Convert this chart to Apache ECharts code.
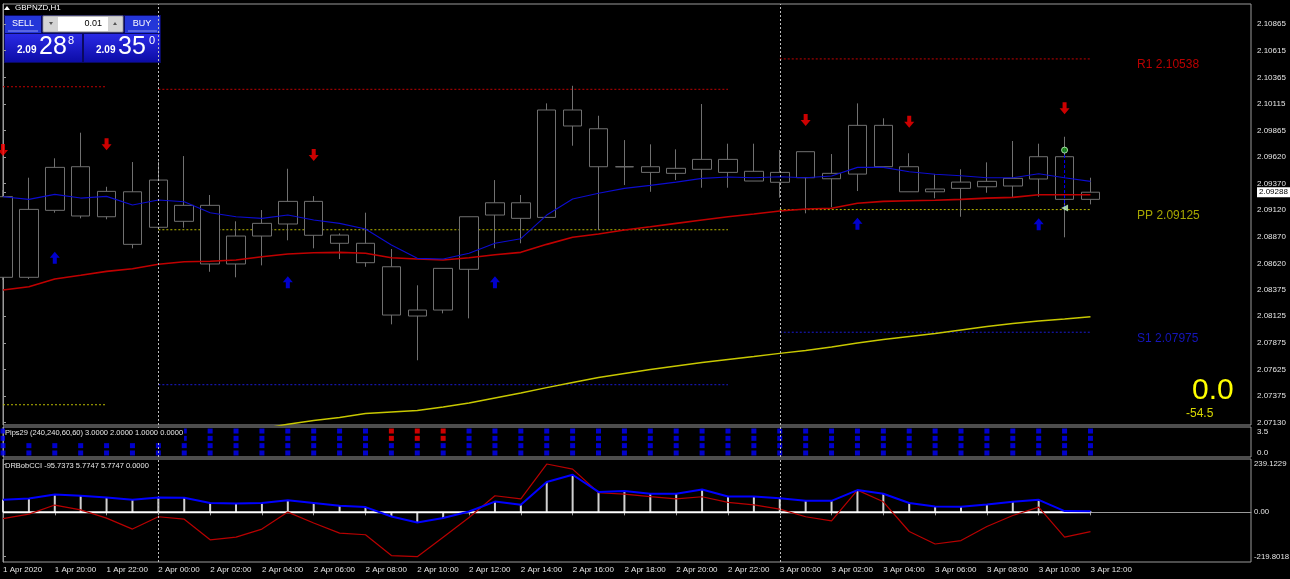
<!DOCTYPE html>
<html>
<head>
<meta charset="utf-8">
<title>GBPNZD,H1</title>
<script src="https://cdn.jsdelivr.net/npm/echarts@6/dist/echarts.min.js"></script>
<style>
html, body { margin: 0; padding: 0; background: #000; }
#chart { width: 1290px; height: 579px; }
</style>
</head>
<body>
<div id="chart"></div>
<script>
// hourly bars, 1 Apr 18:00 .. 3 Apr 12:00
const hours = [
    '1 Apr 18:00', '1 Apr 19:00', '1 Apr 20:00', '1 Apr 21:00', '1 Apr 22:00', '1 Apr 23:00',
    '2 Apr 00:00', '2 Apr 01:00', '2 Apr 02:00', '2 Apr 03:00', '2 Apr 04:00', '2 Apr 05:00',
    '2 Apr 06:00', '2 Apr 07:00', '2 Apr 08:00', '2 Apr 09:00', '2 Apr 10:00', '2 Apr 11:00',
    '2 Apr 12:00', '2 Apr 13:00', '2 Apr 14:00', '2 Apr 15:00', '2 Apr 16:00', '2 Apr 17:00',
    '2 Apr 18:00', '2 Apr 19:00', '2 Apr 20:00', '2 Apr 21:00', '2 Apr 22:00', '2 Apr 23:00',
    '3 Apr 00:00', '3 Apr 01:00', '3 Apr 02:00', '3 Apr 03:00', '3 Apr 04:00', '3 Apr 05:00',
    '3 Apr 06:00', '3 Apr 07:00', '3 Apr 08:00', '3 Apr 09:00', '3 Apr 10:00', '3 Apr 11:00',
    '3 Apr 12:00'
];
const firstLabel = '1 Apr 2020';
const timeTicks = [0, 2, 4, 6, 8, 10, 12, 14, 16, 18, 20, 22, 24, 26, 28, 30, 32, 34, 36, 38, 40, 42];
const dayStarts = [6, 30];

const opens = [2.09246, 2.08490, 2.09118, 2.09527, 2.09058, 2.09292, 2.08959, 2.09165, 2.09165, 2.08615,
    2.08877, 2.08990, 2.09202, 2.08886, 2.08809, 2.08589, 2.08183, 2.08183, 2.08565, 2.09074,
    2.09189, 2.09052, 2.10059, 2.09883, 2.09527, 2.09527, 2.09465, 2.09503, 2.09596, 2.09484,
    2.09381, 2.09424, 2.09414, 2.09458, 2.09915, 2.09527, 2.09292, 2.09324, 2.09339, 2.09346,
    2.09412, 2.09621, 2.09221];
const closes = [2.08490, 2.09127, 2.09521, 2.09065, 2.09296, 2.08799, 2.09402, 2.09015, 2.08615, 2.08877,
    2.08996, 2.09202, 2.08884, 2.08809, 2.08627, 2.08136, 2.08127, 2.08574, 2.09058, 2.09189,
    2.09043, 2.10059, 2.09909, 2.09527, 2.09526, 2.09474, 2.09512, 2.09596, 2.09474, 2.09393,
    2.09474, 2.09668, 2.09465, 2.09915, 2.09527, 2.09292, 2.09318, 2.09383, 2.09390, 2.09418,
    2.09621, 2.09221, 2.09288];
const lows = [2.08465, 2.08474, 2.09096, 2.09043, 2.09034, 2.08762, 2.08943, 2.08955, 2.08542, 2.08490,
    2.08602, 2.08837, 2.08762, 2.08661, 2.08589, 2.08049, 2.07712, 2.08152, 2.08105, 2.08762,
    2.08809, 2.09052, 2.09724, 2.08933, 2.09355, 2.09292, 2.09402, 2.09330, 2.09330, 2.09393,
    2.09236, 2.09090, 2.09146, 2.09299, 2.09527, 2.09292, 2.09231, 2.09058, 2.09283, 2.09240,
    2.09246, 2.08865, 2.09174];
const highs = [2.09308, 2.09424, 2.09606, 2.09846, 2.09339, 2.09571, 2.09574, 2.09627, 2.09262, 2.09015,
    2.09121, 2.09508, 2.09252, 2.08902, 2.09096, 2.08755, 2.08415, 2.08574, 2.09058, 2.09402,
    2.09262, 2.10121, 2.10286, 2.10005, 2.09777, 2.09737, 2.09690, 2.10115, 2.09743, 2.09743,
    2.09684, 2.09668, 2.09646, 2.10121, 2.09981, 2.09653, 2.09456, 2.09503, 2.09568, 2.09768,
    2.09743, 2.09808, 2.09424];

// moving averages
const maFast = [2.09246, 2.09221, 2.09268, 2.09233, 2.09249, 2.09168, 2.09215, 2.09199, 2.09096, 2.09058,
    2.09043, 2.09074, 2.09027, 2.08996, 2.08943, 2.08793, 2.08668, 2.08661, 2.08715, 2.08809,
    2.08852, 2.09074, 2.09224, 2.09278, 2.09324, 2.09352, 2.09383, 2.09418, 2.09430, 2.09424,
    2.09433, 2.09424, 2.09440, 2.09521, 2.09521, 2.09480, 2.09456, 2.09443, 2.09424, 2.09424,
    2.09461, 2.09424, 2.09390];
const maSlow = [2.08371, 2.08402, 2.08474, 2.08509, 2.08546, 2.08570, 2.08612, 2.08636, 2.08640, 2.08652,
    2.08683, 2.08708, 2.08721, 2.08724, 2.08715, 2.08674, 2.08661, 2.08652, 2.08674, 2.08702,
    2.08724, 2.08799, 2.08865, 2.08896, 2.08933, 2.08964, 2.08996, 2.09027, 2.09058, 2.09083,
    2.09112, 2.09130, 2.09137, 2.09184, 2.09202, 2.09208, 2.09212, 2.09221, 2.09233, 2.09240,
    2.09264, 2.09264, 2.09264];
const maTrend = [null, null, null, null, null, null, null, null, null, null,
    2.07070, 2.07112, 2.07147, 2.07175, 2.07213, 2.07227, 2.07241, 2.07274, 2.07311, 2.07358,
    2.07405, 2.07456, 2.07503, 2.07550, 2.07588, 2.07625, 2.07658, 2.07691, 2.07719, 2.07747,
    2.07777, 2.07803, 2.07836, 2.07874, 2.07907, 2.07935, 2.07963, 2.07996, 2.08029, 2.08057,
    2.08080, 2.08099, 2.08120];

// signal arrows
const sellIdx = [0, 4, 12, 31, 35, 41];
const sellPrice = [2.09683, 2.09737, 2.09637, 2.09965, 2.09949, 2.10075];
const buyIdx = [2, 11, 19, 33, 40];
const buyPrice = [2.08674, 2.08443, 2.08443, 2.08992, 2.08987];

// trade marker
const tradeIdx = 41;
const tradeOpen = 2.09683;
const tradeStop = 2.09140;

// daily pivots: segment start/end bar
const pivotStart = [0, 6, 30];
const pivotEnd = [4, 28, 42];
const pivotR1 = [2.10277, 2.10253, 2.10538];
const pivotPP = [2.07295, 2.08936, 2.09125];
const pivotS1 = [null, 2.07483, 2.07975];
const pivotLabelIdx = 43.8;

const priceTicks = [2.10865, 2.10615, 2.10365, 2.10115, 2.09865, 2.09620, 2.09370, 2.09120,
    2.08870, 2.08620, 2.08375, 2.08125, 2.07875, 2.07625, 2.07375, 2.07130];
const lastPrice = 2.09288;
const priceMin = 2.07105;
const priceMax = 2.11053;

// Pips29 rows (3,2,1,0): 1 = blue, -1 = red
const pipsRow3 = [1,1,1,1,1,1,1,1,1,1,1,1,1,1,1,-1,-1,-1,1,1,1,1,1,1,1,1,1,1,1,1,1,1,1,1,1,1,1,1,1,1,1,1,1];
const pipsRow2 = [1,1,1,1,1,1,1,1,1,1,1,1,1,1,1,-1,-1,-1,1,1,1,1,1,1,1,1,1,1,1,1,1,1,1,1,1,1,1,1,1,1,1,1,1];
const pipsRow1 = [1,1,1,1,1,1,1,1,1,1,1,1,1,1,1,1,1,1,1,1,1,1,1,1,1,1,1,1,1,1,1,1,1,1,1,1,1,1,1,1,1,1,1];
const pipsRow0 = [1,1,1,1,1,1,1,1,1,1,1,1,1,1,1,1,1,1,1,1,1,1,1,1,1,1,1,1,1,1,1,1,1,1,1,1,1,1,1,1,1,1,1];
const pipsTicks = [0, 3.5];

// DRBobCCI
const cciMain = [-31, -9, 36, 12, -29, -83, -22, -34, -136, -123, -83, 1, -53, -103, -111, -214, -219.8018,
    -123, -26, 82, 67, 239.1229, 214, 97, 90, 78, 67, 77, 49, 37, 16, -22, -42, 110, 52, -95, -157, -140,
    -70, -16, 26, -123, -95.7373];
const cciSignal = [62, 68, 88, 82, 73, 62, 73, 72, 46, 44, 46, 60, 46, 32, 26, -21, -50, -28, 4, 53, 37,
    150, 186, 101, 105, 92, 92, 113, 78, 78, 70, 57, 57, 110, 92, 46, 29, 27, 39, 52, 62, 6, 5.7747];
const cciLevel = 0;
const cciTicks = [239.1229, 0, -219.8018];

const FONT = "'Liberation Sans', Arial, sans-serif";
const AXIS_COLOR = '#9a9a9a';
const TEXT_COLOR = '#e4e4e4';

const xMax = 48.2;
const pairs = arr => arr.map((v, i) => [i, v]);
const downArrow = 'path://M3,0 L7,0 L7,6 L10,6 L5,12 L0,6 L3,6 Z';

function pivotSeries(name, values, color) {
    return values.map((v, k) => v == null ? null : {
        name: name, type: 'line', xAxisIndex: 0, yAxisIndex: 0,
        data: [[pivotStart[k], v], [pivotEnd[k], v]],
        symbol: 'none', silent: true,
        lineStyle: { color: color, width: 1, type: [2, 2] }
    }).filter(Boolean);
}

function separators() {
    return {
        silent: true, symbol: 'none', animation: false,
        label: { show: false },
        lineStyle: { color: '#bdbdbd', width: 1, type: [2, 2] },
        data: dayStarts.map(d => ({ xAxis: d }))
    };
}

function pipsSeries(row, level) {
    return {
        type: 'scatter', xAxisIndex: 1, yAxisIndex: 1,
        symbol: 'rect', symbolSize: [5, 5], silent: true,
        data: row.map((s, i) => ({ value: [i, level], itemStyle: { color: s > 0 ? '#0000ff' : '#ff0000' } })),
        z: 2
    };
}

const xBase = {
    type: 'value', min: 0, max: xMax,
    axisLine: { show: false }, axisTick: { show: false },
    axisLabel: { show: false }, splitLine: { show: false }
};

const gridBase = {
    left: 3, right: 39, show: true, borderColor: AXIS_COLOR, borderWidth: 1,
    containLabel: false, outerBoundsMode: 'none'
};

const chart = echarts.init(document.getElementById('chart'));
chart.setOption({
    backgroundColor: '#000',
    animation: false,
    textStyle: { fontFamily: FONT },
    grid: [
        Object.assign({ top: 4, height: 421 }, gridBase),
        Object.assign({ top: 427, height: 30 }, gridBase),
        Object.assign({ top: 459, height: 103 }, gridBase)
    ],
    xAxis: [
        Object.assign({ gridIndex: 0 }, xBase),
        Object.assign({ gridIndex: 1 }, xBase),
        {
            type: 'value', gridIndex: 2, min: 0, max: xMax,
            splitLine: { show: false },
            axisLine: { show: true, lineStyle: { color: AXIS_COLOR } },
            axisTick: { show: true, customValues: timeTicks, length: 3, lineStyle: { color: AXIS_COLOR } },
            axisLabel: {
                customValues: timeTicks, align: 'left', margin: 4,
                color: TEXT_COLOR, fontSize: 8, fontFamily: FONT,
                formatter: v => v === 0 ? firstLabel : hours[v]
            }
        }
    ],
    yAxis: [
        {
            type: 'value', gridIndex: 0, position: 'right', min: priceMin, max: priceMax,
            splitLine: { show: false },
            axisLine: { show: true, lineStyle: { color: AXIS_COLOR } },
            axisTick: { show: true, customValues: priceTicks.concat([lastPrice]), length: 3, lineStyle: { color: AXIS_COLOR } },
            axisLabel: {
                customValues: priceTicks.concat([lastPrice]), margin: 6,
                color: TEXT_COLOR, fontSize: 8, fontFamily: FONT,
                formatter: v => Math.abs(v - lastPrice) < 1e-7 ? '{cur|' + v.toFixed(5) + '}' : v.toFixed(5),
                rich: { cur: { backgroundColor: '#fff', color: '#000', fontSize: 8, padding: [1, 4, 1, 2] } }
            }
        },
        {
            type: 'value', gridIndex: 1, position: 'right', min: -0.55, max: 3.55,
            splitLine: { show: false },
            axisLine: { show: true, lineStyle: { color: AXIS_COLOR } },
            axisTick: { show: false },
            axisLabel: {
                customValues: pipsTicks, margin: 6, color: TEXT_COLOR, fontSize: 8, fontFamily: FONT,
                formatter: v => v > 1 ? '{t|' + v.toFixed(1) + '}' : v.toFixed(1),
                rich: { t: { padding: [8, 0, 0, 0], fontSize: 8, color: TEXT_COLOR } }
            }
        },
        {
            type: 'value', gridIndex: 2, position: 'right', min: -246, max: 264,
            splitLine: { show: false },
            axisLine: { show: true, lineStyle: { color: AXIS_COLOR } },
            axisTick: { show: true, customValues: cciTicks, length: 3, lineStyle: { color: AXIS_COLOR } },
            axisLabel: {
                customValues: cciTicks, margin: 3, color: TEXT_COLOR, fontSize: 7.8, fontFamily: FONT,
                formatter: v => v === 0 ? '0.00' : v.toFixed(4)
            }
        }
    ],
    series: [
        {
            name: 'GBPNZD', type: 'candlestick', xAxisIndex: 0, yAxisIndex: 0,
            data: opens.map((o, i) => [i, o, closes[i], lows[i], highs[i]]),
            barWidth: 19,
            itemStyle: {
                color: '#000', color0: '#000',
                borderColor: '#707070', borderColor0: '#707070', borderColorDoji: '#707070',
                borderWidth: 1
            },
            z: 3
        },
        {
            name: 'MA slow', type: 'line', xAxisIndex: 0, yAxisIndex: 0,
            data: pairs(maSlow), symbol: 'none', silent: true,
            lineStyle: { color: '#c00000', width: 1.6 }, z: 4,
            markLine: separators()
        },
        {
            name: 'MA fast', type: 'line', xAxisIndex: 0, yAxisIndex: 0,
            data: pairs(maFast), symbol: 'none', silent: true,
            lineStyle: { color: '#0c0cd0', width: 1.1 }, z: 4
        },
        {
            name: 'MA trend', type: 'line', xAxisIndex: 0, yAxisIndex: 0,
            data: pairs(maTrend), symbol: 'none', silent: true, connectNulls: false,
            lineStyle: { color: '#c8c800', width: 1.4 }, z: 4
        },
        ...pivotSeries('R1', pivotR1, '#c00000'),
        ...pivotSeries('PP', pivotPP, '#b8b800'),
        ...pivotSeries('S1', pivotS1, '#1a1ad0'),
        {
            name: 'pivot labels', type: 'scatter', xAxisIndex: 0, yAxisIndex: 0,
            symbolSize: 0, silent: true,
            data: [
                { value: [pivotLabelIdx, pivotR1[2]], label: { formatter: 'R1 ' + pivotR1[2].toFixed(5), color: '#e80000' } },
                { value: [pivotLabelIdx, pivotPP[2]], label: { formatter: 'PP ' + pivotPP[2].toFixed(5), color: '#d0d000' } },
                { value: [pivotLabelIdx, pivotS1[2]], label: { formatter: 'S1 ' + pivotS1[2].toFixed(5), color: '#1a1ae8' } }
            ],
            label: { show: true, position: [0, 0], align: 'left', verticalAlign: 'top', fontSize: 12, fontFamily: FONT }
        },
        {
            name: 'sell', type: 'scatter', xAxisIndex: 0, yAxisIndex: 0,
            data: sellIdx.map((x, k) => [x, sellPrice[k]]),
            symbol: downArrow, symbolSize: [10, 12], silent: true,
            itemStyle: { color: '#ff0000' }, z: 5
        },
        {
            name: 'buy', type: 'scatter', xAxisIndex: 0, yAxisIndex: 0,
            data: buyIdx.map((x, k) => [x, buyPrice[k]]),
            symbol: downArrow, symbolRotate: 180, symbolSize: [10, 12], silent: true,
            itemStyle: { color: '#0000ff' }, z: 5
        },
        {
            name: 'trade line', type: 'line', xAxisIndex: 0, yAxisIndex: 0,
            data: [[tradeIdx, tradeOpen], [tradeIdx, tradeStop]], symbol: 'none', silent: true,
            lineStyle: { color: '#0000ff', width: 1, type: [3, 2] }, z: 5
        },
        {
            name: 'trade open', type: 'scatter', xAxisIndex: 0, yAxisIndex: 0,
            data: [[tradeIdx, tradeOpen]], symbol: 'circle', symbolSize: 6, silent: true,
            itemStyle: { color: '#1a9a1a', borderColor: '#c8ffc8', borderWidth: 1 }, z: 6
        },
        {
            name: 'trade stop', type: 'scatter', xAxisIndex: 0, yAxisIndex: 0,
            data: [[tradeIdx, tradeStop]], symbol: 'triangle', symbolRotate: 90, symbolSize: 7, silent: true,
            itemStyle: { color: '#c8ffc8' }, z: 6
        },

        // Pips29
        Object.assign(pipsSeries(pipsRow3, 3), { markLine: separators() }),
        pipsSeries(pipsRow2, 2),
        pipsSeries(pipsRow1, 1),
        pipsSeries(pipsRow0, 0),

        // DRBobCCI
        {
            name: 'cci hist', type: 'bar', xAxisIndex: 2, yAxisIndex: 2,
            data: pairs(cciSignal), barWidth: 2, silent: true,
            itemStyle: { color: '#d0d0d0' }, z: 2
        },
        {
            name: 'cci zero', type: 'line', xAxisIndex: 2, yAxisIndex: 2,
            data: [[0, cciLevel], [hours.length - 1, cciLevel]], symbol: 'none', silent: true,
            lineStyle: { color: '#ffffff', width: 2 }, z: 3,
            markLine: separators()
        },
        {
            name: 'cci main', type: 'line', xAxisIndex: 2, yAxisIndex: 2,
            data: pairs(cciMain), symbol: 'none', silent: true,
            lineStyle: { color: '#b80000', width: 1.2 }, z: 4
        },
        {
            name: 'cci signal', type: 'line', xAxisIndex: 2, yAxisIndex: 2,
            data: pairs(cciSignal), symbol: 'none', silent: true,
            lineStyle: { color: '#0000ff', width: 2 }, z: 5
        }
    ],
    graphic: [
        // chart caption
        { type: 'polygon', shape: { points: [[4, 10], [10, 10], [7, 6]] }, style: { fill: '#fff' } },
        { type: 'text', x: 15, y: 8, style: { text: 'GBPNZD,H1', fill: '#fff', font: '8px ' + FONT, verticalAlign: 'middle' } },

        // one-click trading panel
        { type: 'rect', shape: { x: 4, y: 15, width: 157, height: 48 }, style: { fill: '#0a0a60' } },
        { type: 'rect', shape: { x: 5, y: 16, width: 36, height: 17 }, style: { fill: '#2436d8' } },
        { type: 'line', shape: { x1: 8, y1: 31, x2: 38, y2: 31 }, style: { stroke: '#8d97f0', lineWidth: 1 } },
        { type: 'text', x: 23, y: 24, style: { text: 'SELL', fill: '#fff', font: '9px ' + FONT, align: 'center', verticalAlign: 'middle' } },
        { type: 'rect', shape: { x: 43, y: 16, width: 80, height: 16 }, style: { fill: '#fff', stroke: '#7a7a7a' } },
        { type: 'rect', shape: { x: 44, y: 17, width: 14, height: 14 }, style: { fill: '#d4d4d4' } },
        { type: 'polygon', shape: { points: [[49, 22], [53, 22], [51, 25]] }, style: { fill: '#555' } },
        { type: 'rect', shape: { x: 108, y: 17, width: 14, height: 14 }, style: { fill: '#d4d4d4' } },
        { type: 'polygon', shape: { points: [[113, 25], [117, 25], [115, 22]] }, style: { fill: '#555' } },
        { type: 'text', x: 102, y: 24, style: { text: '0.01', fill: '#000', font: '9px ' + FONT, align: 'right', verticalAlign: 'middle' } },
        { type: 'rect', shape: { x: 125, y: 16, width: 35, height: 17 }, style: { fill: '#2436d8' } },
        { type: 'line', shape: { x1: 128, y1: 31, x2: 157, y2: 31 }, style: { stroke: '#8d97f0', lineWidth: 1 } },
        { type: 'text', x: 142, y: 24, style: { text: 'BUY', fill: '#fff', font: '9px ' + FONT, align: 'center', verticalAlign: 'middle' } },
        {
            type: 'rect', shape: { x: 5, y: 34, width: 77, height: 28 },
            style: { fill: new echarts.graphic.LinearGradient(0, 0, 0, 1, [{ offset: 0, color: '#2a2ae6' }, { offset: 1, color: '#0c0ca6' }]) }
        },
        {
            type: 'rect', shape: { x: 84, y: 34, width: 76, height: 28 },
            style: { fill: new echarts.graphic.LinearGradient(0, 0, 0, 1, [{ offset: 0, color: '#2a2ae6' }, { offset: 1, color: '#0c0ca6' }]) }
        },
        { type: 'text', x: 17, y: 50, style: { text: '2.09', fill: '#fff', font: 'bold 10px ' + FONT, verticalAlign: 'middle' } },
        { type: 'text', x: 39, y: 47, style: { text: '28', fill: '#fff', font: '25px ' + FONT, verticalAlign: 'middle' } },
        { type: 'text', x: 68, y: 41, style: { text: '8', fill: '#fff', font: '11px ' + FONT, verticalAlign: 'middle' } },
        { type: 'text', x: 96, y: 50, style: { text: '2.09', fill: '#fff', font: 'bold 10px ' + FONT, verticalAlign: 'middle' } },
        { type: 'text', x: 118, y: 47, style: { text: '35', fill: '#fff', font: '25px ' + FONT, verticalAlign: 'middle' } },
        { type: 'text', x: 149, y: 41, style: { text: '0', fill: '#fff', font: '11px ' + FONT, verticalAlign: 'middle' } },

        // profit readout
        { type: 'text', x: 1192, y: 391, style: { text: '0.0', fill: '#ffff00', font: '30px ' + FONT, verticalAlign: 'middle' } },
        { type: 'text', x: 1186, y: 414, style: { text: '-54.5', fill: '#d8d800', font: '12px ' + FONT, verticalAlign: 'middle' } },

        // indicator captions
        {
            type: 'text', x: 5, y: 428, z: 50,
            style: { text: 'Pips29 (240,240,60,60) 3.0000 2.0000 1.0000 0.0000', fill: '#e8e8e8', font: '7.5px ' + FONT, backgroundColor: '#000', padding: [1, 1, 4, 0] }
        },
        { type: 'text', x: 5, y: 462, style: { text: 'DRBobCCI -95.7373 5.7747 5.7747 0.0000', fill: '#e8e8e8', font: '7.5px ' + FONT } }
    ]
});
</script>
</body>
</html>
